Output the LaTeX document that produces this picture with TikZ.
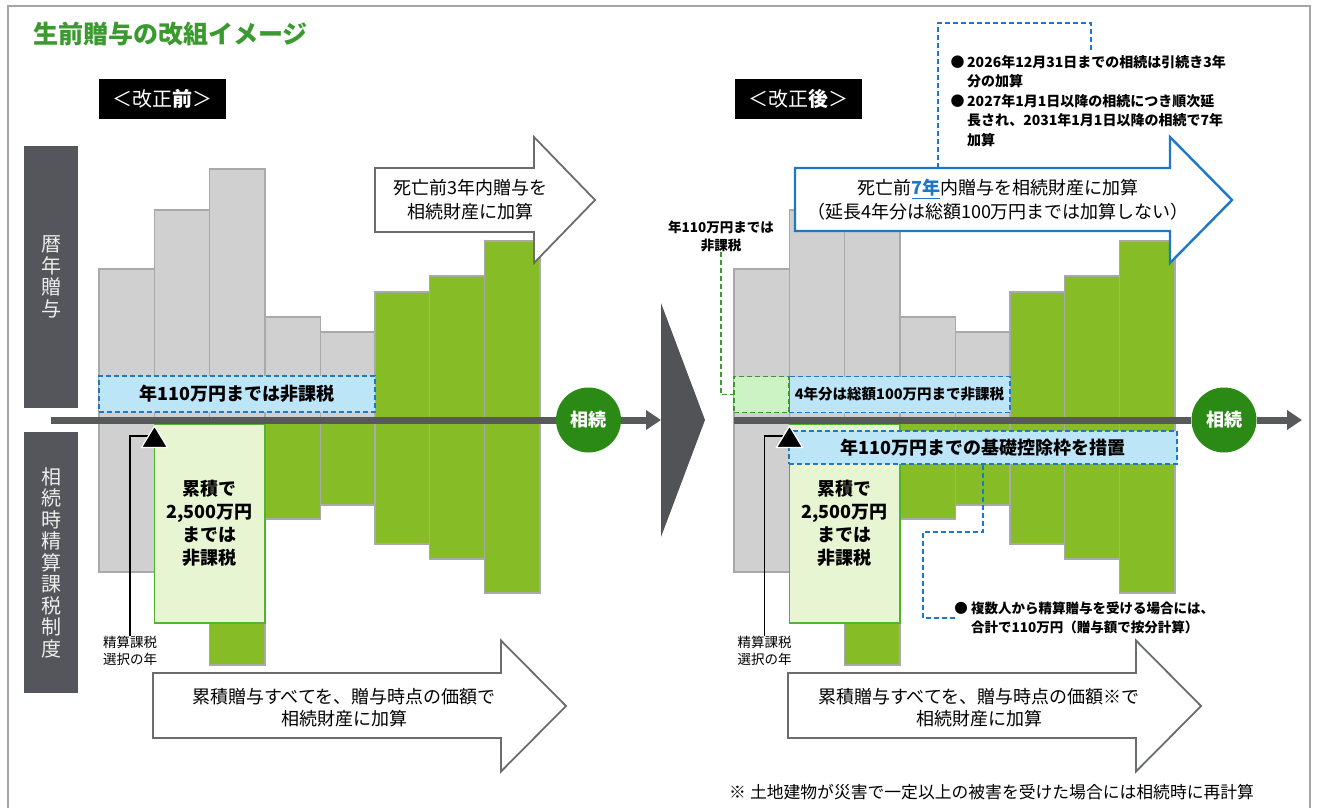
\documentclass[tikz,border=0pt]{standalone}
\usepackage{fontspec}
\setmainfont{Noto Sans CJK JP}
\usetikzlibrary{arrows.meta}
\definecolor{framec}{HTML}{A6A6A6}
\definecolor{titleg}{HTML}{3B9A2F}
\definecolor{darkbox}{HTML}{54565B}
\definecolor{bargray}{HTML}{D0D0D0}
\definecolor{barline}{HTML}{A9A9A9}
\definecolor{bargreen}{HTML}{86BC25}
\definecolor{lightgreen}{HTML}{E7F5D3}
\definecolor{lgline}{HTML}{50B432}
\definecolor{lblue}{HTML}{BDE5F8}
\definecolor{dblue}{HTML}{1E78C8}
\definecolor{circg}{HTML}{2B8A15}
\definecolor{axisc}{HTML}{58595B}
\definecolor{arrowc}{HTML}{6B6C6E}
\definecolor{paleg}{HTML}{CBF3C3}
\definecolor{dashg}{HTML}{3C9A2C}
\definecolor{chev}{HTML}{525357}
\definecolor{labtxt}{HTML}{EDEDED}
\tikzset{
  txt/.style={inner sep=0pt, align=center},
  barbox/.style={draw=barline, line width=1.4pt},
  bluebox/.style={draw=dblue, fill=lblue, dash pattern=on 5pt off 3pt, line width=1.8pt, inner sep=0pt},
  greenbox/.style={draw=dashg, fill=paleg, dash pattern=on 5pt off 3pt, line width=1.8pt, inner sep=0pt},
  bluedash/.style={draw=dblue, dash pattern=on 5pt off 3pt, line width=1.8pt},
  greendash/.style={draw=dashg, dash pattern=on 5pt off 3pt, line width=1.8pt},
  bigarrow/.style={draw=arrowc, fill=white, line width=1.8pt, line join=miter},
  tab/.style={fill=black, text=white, minimum width=127pt, minimum height=40pt, inner sep=0pt, font=\fontsize{20}{22}\selectfont},
  sidelab/.style={fill=darkbox, text=labtxt, minimum width=54pt, inner sep=0pt, align=center, font=\fontsize{20}{21.5}\selectfont},
  lgbox/.style={draw=lgline, fill=lightgreen, line width=1.8pt, minimum width=110.5pt, minimum height=199pt, inner sep=0pt, align=center, font=\fontsize{18}{23}\selectfont\bfseries},
  inh/.style={circle, fill=circg, minimum size=65pt, inner sep=0pt, text=white, font=\fontsize{18}{20}\selectfont\bfseries},
  axis/.style={draw=axisc, line width=7pt},
  marker/.style={fill=black, draw=white, line width=1.2pt},
  small/.style={inner sep=0pt, align=center, font=\fontsize{13.5}{17}\selectfont},
  note/.style={inner sep=0pt, anchor=west, font=\fontsize{14}{16}\selectfont\bfseries},
}
\begin{document}
\begin{tikzpicture}[x=1pt,y=-1pt]
\useasboundingbox (0,0) rectangle (1317,807);
% frame
\draw[framec, line width=2pt] (8,810) -- (8,6) -- (1310,6) -- (1310,810);
% title and tabs
\node[anchor=west, inner sep=0pt, text=titleg, font=\fontsize{25}{28}\selectfont\bfseries] (title) at (33,34) {生前贈与の改組イメージ};
\node[tab] (tabL) at (162.5,99) {＜改正\textbf{前}＞};
\node[tab] (tabR) at (798,99) {＜改正\textbf{後}＞};
% side labels
\node[sidelab, minimum height=262pt] (lab1) at (51,277) {暦\\年\\贈\\与};
\node[sidelab, minimum height=261pt] (lab2) at (51,562.5) {相\\続\\時\\精\\算\\課\\税\\制\\度};
% bars (both panels)
\foreach \s in {0,635}{
  \begin{scope}[xshift=\s pt]
    \foreach \xa/\xb/\tp/\col in {99/154.5/269/bargray, 154.5/209.5/210/bargray, 209.5/265/169/bargray, 265/320.5/317/bargray, 320.5/375/332/bargray, 375/429.5/292/bargreen, 429.5/484.5/276/bargreen, 484.5/540/241/bargreen}
      \filldraw[barbox, fill=\col] (\xa,\tp) rectangle (\xb,420);
    \foreach \xa/\xb/\bt/\col in {99/154.5/572/bargray, 154.5/209.5/623/bargreen, 209.5/265/665/bargreen, 265/320.5/519/bargreen, 320.5/375/505/bargreen, 375/429.5/544/bargreen, 429.5/484.5/559/bargreen, 484.5/540/593/bargreen}
      \filldraw[barbox, fill=\col] (\xa,420) rectangle (\xb,\bt);
  \end{scope}
}
% light green boxes
\node[lgbox] (lgL) at (209.75,523.5) {累積で\\2,500万円\\までは\\非課税};
\node[lgbox] (lgR) at (844.75,523.5) {累積で\\2,500万円\\までは\\非課税};
% upper arrows
\draw[bigarrow] (375,168) -- (534,168) -- (534,137) -- (595,200) -- (534,263) -- (534,232) -- (375,232) -- cycle;
\node[txt, font=\fontsize{18}{24}\selectfont] (la) at (470,200) {死亡前3年内贈与を\\相続財産に加算};
\draw[bigarrow, draw=dblue, line width=2.4pt] (795,168) -- (1170,168) -- (1170,137) -- (1232,200) -- (1170,263) -- (1170,231) -- (795,231) -- cycle;
\node[txt, font=\fontsize{18}{24}\selectfont] (ra) at (998,200) {死亡前{\color{dblue}\bfseries\underline{7年}}内贈与を相続財産に加算\\（延長4年分は総額100万円までは加算しない）};
% lower arrows
\draw[bigarrow] (153,673) -- (501,673) -- (501,640.5) -- (566,706) -- (501,771.5) -- (501,738) -- (153,738) -- cycle;
\node[txt, font=\fontsize{18}{22}\selectfont] (lb) at (344,708) {累積贈与すべてを、贈与時点の価額で\\相続財産に加算};
\draw[bigarrow] (788,673) -- (1136,673) -- (1136,640.5) -- (1201,706) -- (1136,771.5) -- (1136,738) -- (788,738) -- cycle;
\node[txt, font=\fontsize{18}{22}\selectfont] (rb) at (979,708) {累積贈与すべてを、贈与時点の価額※で\\相続財産に加算};
% blue / green boxes
\node[bluebox, minimum width=276pt, minimum height=36pt, font=\fontsize{18}{20}\selectfont\bfseries] (b110L) at (237,394) {年110万円までは非課税};
\node[bluebox, minimum width=221pt, minimum height=36pt, font=\fontsize{14.5}{16}\selectfont\bfseries] (b4) at (899.5,394.5) {4年分は総額100万円まで非課税};
\node[greenbox, minimum width=55.4pt, minimum height=36pt] (gbox) at (761.3,394.5) {};
\node[bluebox, minimum width=388pt, minimum height=33pt, font=\fontsize{18}{20}\selectfont\bfseries] (bkiso) at (983,447.5) {年110万円までの基礎控除枠を措置};
% big chevron
\fill[chev] (661,303) -- (705,420) -- (661,537) -- cycle;
% timelines
\node[inh] (inhL) at (588.5,420) {相続};
\node[inh] (inhR) at (1224,420) {相続};
\coordinate (tl0) at (51,420);
\coordinate (tl1) at (661,420);
\coordinate (tr0) at (734,420);
\coordinate (tr1) at (1302,420);
\draw[axis] (tl0) -- (inhL);
\draw[axis, -{Triangle[length=15pt,width=19pt]}] (inhL) -- (tl1);
\draw[axis] (tr0) -- (inhR);
\draw[axis, -{Triangle[length=15pt,width=19pt]}] (inhR) -- (tr1);
% selection-year markers
\node[small] (selL) at (130,650.5) {精算課税\\選択の年};
\node[small] (selR) at (764.5,650.5) {精算課税\\選択の年};
\draw[line width=1.6pt] (selL.north) -- (130,436) -- (150,436);
\draw[line width=1.6pt] (selR.north) -- (764.5,436) -- (785,436);
\filldraw[marker] (154.5,426) -- (167.5,447.5) -- (141.5,447.5) -- cycle;
\filldraw[marker] (789.5,426) -- (802.5,447.5) -- (776.5,447.5) -- cycle;
% note: 110 under green box
\node[txt, font=\fontsize{13.5}{18}\selectfont\bfseries] (n110) at (721,236) {年110万円までは\\非課税};
\draw[greendash] (n110.south) -- (721,394.5) -- (gbox.west);
% top callout
\coordinate (cA) at (938,168);
\coordinate (cB) at (938,23);
\coordinate (cC) at (1091,23);
\coordinate (cD) at (1091,53);
\draw[bluedash] (cA) -- (cB) -- (cC) -- (cD);
\node[note, anchor=center] (bu1) at (957.5,62) {●};
\node[note] (t1a) at (967,62) {2026年12月31日までの相続は引続き3年};
\node[note] (t1b) at (967,81.5) {分の加算};
\node[note, anchor=center] (bu2) at (957.5,101) {●};
\node[note] (t2a) at (967,101) {2027年1月1日以降の相続につき順次延};
\node[note] (t2b) at (967,120.5) {長され、2031年1月1日以降の相続で7年};
\node[note] (t2c) at (967,140) {加算};
% lower callout
\coordinate (cE) at (983,532);
\coordinate (cF) at (923,532);
\coordinate (cG) at (923,618);
\coordinate (cH) at (955,618);
\draw[bluedash] (bkiso.south) -- (cE) -- (cF) -- (cG) -- (cH);
\node[note, anchor=center, font=\fontsize{13.5}{16}\selectfont\bfseries] (bu3) at (961,608) {●};
\node[note, font=\fontsize{13.5}{16}\selectfont\bfseries] (t3a) at (971,608) {複数人から精算贈与を受ける場合には、};
\node[note, font=\fontsize{13.5}{16}\selectfont\bfseries] (t3b) at (971,627) {合計で110万円（贈与額で按分計算）};
% footnote
\node[inner sep=0pt, anchor=west, font=\fontsize{16.8}{18}\selectfont] (foot) at (729,792) {※\hspace{4pt}土地建物が災害で一定以上の被害を受けた場合には相続時に再計算};
\end{tikzpicture}
\end{document}
